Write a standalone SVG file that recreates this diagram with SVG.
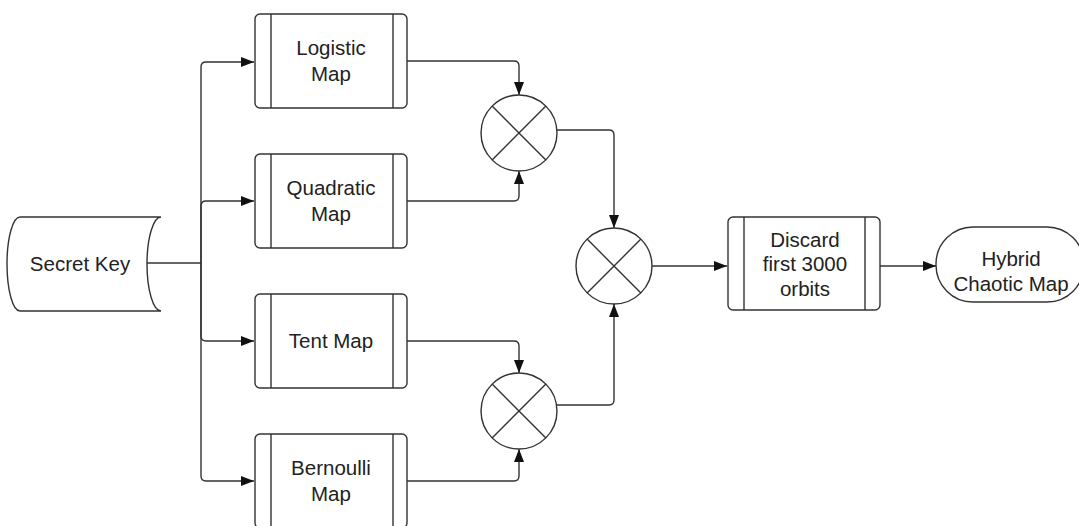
<svg xmlns="http://www.w3.org/2000/svg" width="1079" height="526" viewBox="0 0 1079 526">
<defs>
<marker id="arr" markerUnits="userSpaceOnUse" markerWidth="13" markerHeight="10" refX="13" refY="5" orient="auto">
<path d="M0,0 L13,5 L0,10 z" fill="#111"/>
</marker>
<style>
.s{fill:#fff;stroke:#333;stroke-width:1.4}
.l{fill:none;stroke:#333;stroke-width:1.4}
.c{fill:none;stroke:#333;stroke-width:1.4;marker-end:url(#arr)}
text{font-family:"Liberation Sans",Arial,sans-serif;font-size:20.5px;fill:#222;text-anchor:middle;dominant-baseline:central}
</style>
</defs>
<rect width="1079" height="526" fill="#fff"/>
<g id="connectors">
<path class="l" d="M147,263 H201"/>
<path class="c" d="M201,263 V67 Q201,62 206,62 H254"/>
<path class="c" d="M201,263 V206 Q201,201 206,201 H254"/>
<path class="c" d="M201,263 V336 Q201,341 206,341 H254"/>
<path class="c" d="M201,263 V476 Q201,481 206,481 H254"/>
<path class="c" d="M407,61 H514 Q519,61 519,66 V95"/>
<path class="c" d="M407,201 H514 Q519,201 519,196 V171"/>
<path class="c" d="M407,341 H514 Q519,341 519,346 V373"/>
<path class="c" d="M407,481 H514 Q519,481 519,476 V449"/>
<path class="c" d="M557,130 H609 Q614,130 614,135 V228"/>
<path class="c" d="M557,405 H609 Q614,405 614,400 V304"/>
<path class="c" d="M652,266 H727"/>
<path class="c" d="M880,266 H936"/>
</g>
<g id="secret-key">
<path class="s" d="M161,217 H20 A13,47 0 0 0 20,311 H161 A14,47 0 0 1 161,217 Z"/>
<text x="80" y="263">Secret Key</text>
</g>
<g id="logistic">
<rect class="s" x="255" y="14" width="152" height="94" rx="5"/>
<path class="l" d="M271,14 V108 M393,14 V108"/>
<text x="331" y="47">Logistic</text>
<text x="331" y="73">Map</text>
</g>
<g id="quadratic">
<rect class="s" x="255" y="154" width="152" height="94" rx="5"/>
<path class="l" d="M271,154 V248 M393,154 V248"/>
<text x="331" y="187">Quadratic</text>
<text x="331" y="213">Map</text>
</g>
<g id="tent">
<rect class="s" x="255" y="294" width="152" height="94" rx="5"/>
<path class="l" d="M271,294 V388 M393,294 V388"/>
<text x="331" y="340">Tent Map</text>
</g>
<g id="bernoulli">
<rect class="s" x="255" y="434" width="152" height="94" rx="5"/>
<path class="l" d="M271,434 V528 M393,434 V528"/>
<text x="331" y="467">Bernoulli</text>
<text x="331" y="493">Map</text>
</g>
<g id="mult1">
<circle class="s" cx="519" cy="133" r="38"/>
<path class="l" d="M492.1,106.1 L545.9,159.9 M545.9,106.1 L492.1,159.9"/>
</g>
<g id="mult3">
<circle class="s" cx="519" cy="411" r="38"/>
<path class="l" d="M492.1,384.1 L545.9,437.9 M545.9,384.1 L492.1,437.9"/>
</g>
<g id="mult2">
<circle class="s" cx="614" cy="266" r="38"/>
<path class="l" d="M587.1,239.1 L640.9,292.9 M640.9,239.1 L587.1,292.9"/>
</g>
<g id="discard">
<rect class="s" x="728" y="217" width="152" height="93" rx="5"/>
<path class="l" d="M744,217 V310 M865,217 V310"/>
<text x="805" y="239">Discard</text>
<text x="805" y="263">first 3000</text>
<text x="805" y="288">orbits</text>
</g>
<g id="hybrid">
<rect class="s" x="936" y="227" width="148" height="75" rx="37"/>
<text x="1011" y="258">Hybrid</text>
<text x="1011" y="283">Chaotic Map</text>
</g>
</svg>
